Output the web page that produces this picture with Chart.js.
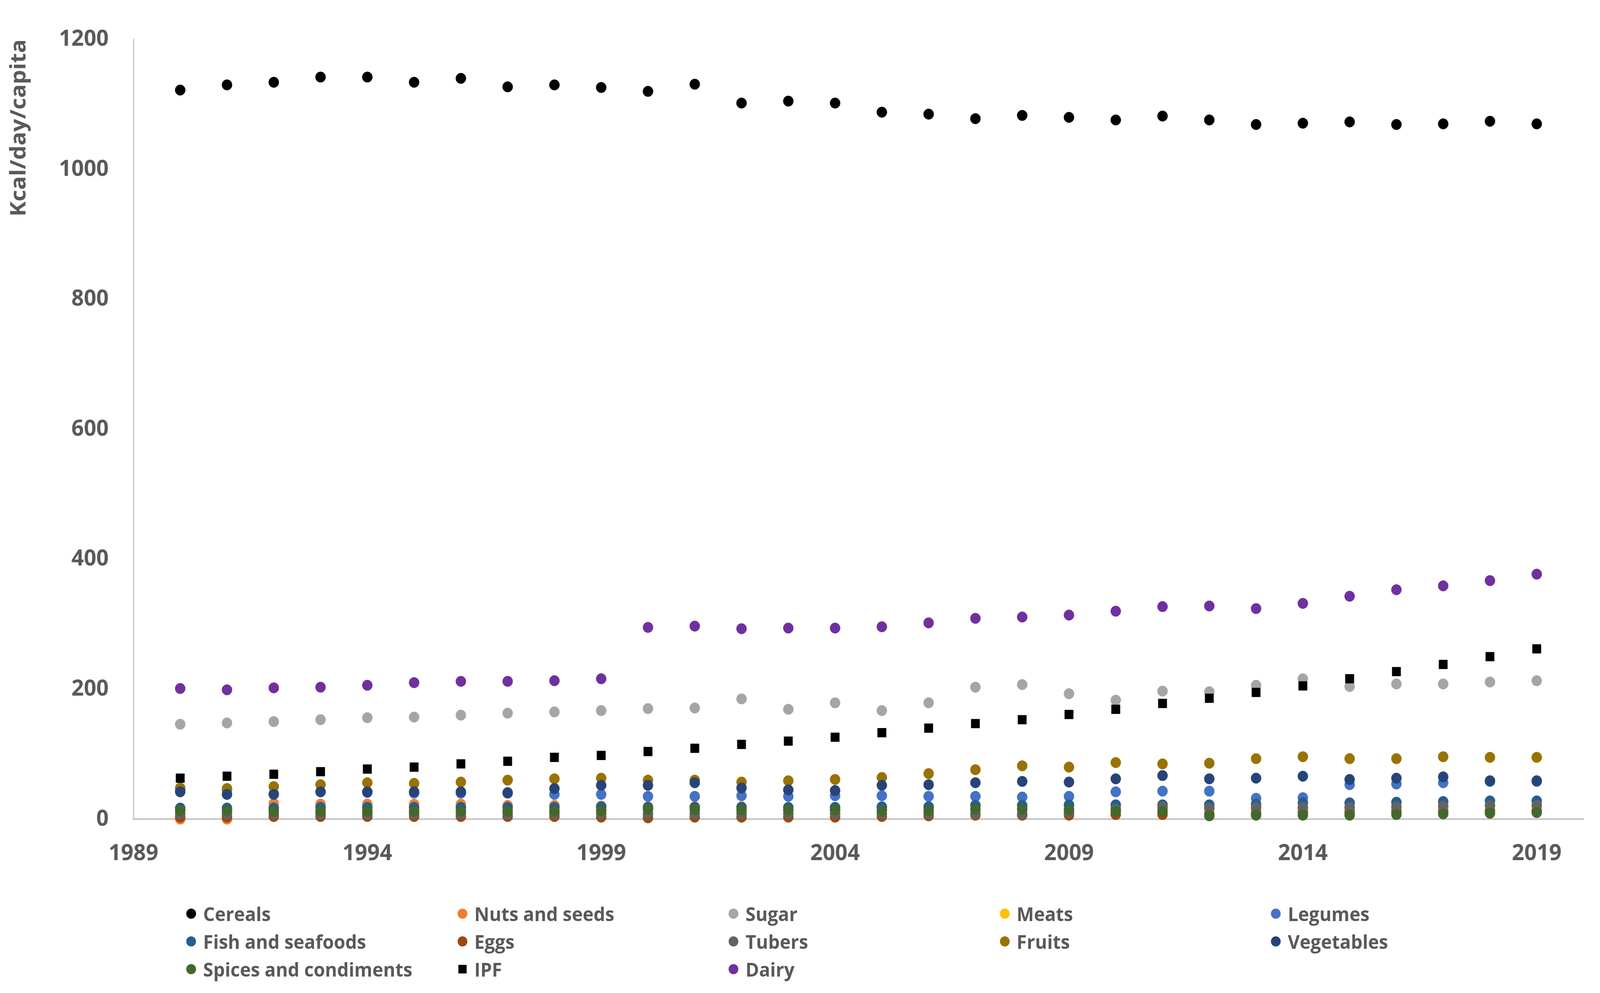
<!DOCTYPE html>
<html lang="en">
<head>
    <meta charset="UTF-8">
    <title>Kcal/day/capita by food group</title>
    <script src="https://cdn.jsdelivr.net/npm/chart.js"></script>
    <style>
        html, body {
            margin: 0;
            padding: 0;
            overflow: hidden;
            background: #ffffff;
            font-family: "Open Sans", sans-serif;
        }
        .wrap {
            position: relative;
            width: 4269px;
            height: 2541px;
            overflow: hidden;
            transform-origin: 0 0;
        }
        #chart {
            display: block;
        }
        #legend {
            position: absolute;
            left: 497px;
            top: 2302px;
            display: grid;
            grid-template-columns: repeat(5, 723.5px);
            grid-auto-rows: 71px;
        }
        .item {
            display: flex;
            align-items: center;
            color: #595959;
            font-weight: 700;
            font-size: 49px;
            white-space: nowrap;
        }
        .mark {
            width: 26px;
            height: 26px;
            border-radius: 50%;
            margin-right: 19px;
            flex: none;
        }
        .mark.sq {
            width: 22px;
            height: 22px;
            border-radius: 0;
            margin-left: 2px;
            margin-right: 21px;
        }
    </style>
</head>
<body>
    <div class="wrap" id="wrap">
        <canvas id="chart" width="4269" height="2541"></canvas>
        <div id="legend"></div>
    </div>

    <script>
        // Data (1990-2019)
        const years = [1990, 1991, 1992, 1993, 1994, 1995, 1996, 1997, 1998, 1999,
                       2000, 2001, 2002, 2003, 2004, 2005, 2006, 2007, 2008, 2009,
                       2010, 2011, 2012, 2013, 2014, 2015, 2016, 2017, 2018, 2019];
        const xTicks = [1989, 1994, 1999, 2004, 2009, 2014, 2019];
        const yTicks = [0, 200, 400, 600, 800, 1000, 1200];

        const cereals = [1122, 1130, 1134, 1142, 1142, 1134, 1140, 1127, 1130, 1126,
                         1120, 1131, 1102, 1105, 1102, 1088, 1085, 1078, 1083, 1080,
                         1076, 1082, 1076, 1069, 1071, 1073, 1069, 1070, 1074, 1070];
        const nuts = [0, 0, 24, 23, 23, 23, 23, 21, 21, 20,
                      19, 19, 19, 18, 18, 18, 19, 22, 21, 20,
                      18, 17, 16, 15, 15, 14, 14, 14, 14, 14];
        const sugar = [146, 148, 150, 153, 156, 157, 160, 163, 165, 167,
                       170, 171, 185, 169, 179, 167, 179, 203, 207, 193,
                       183, 197, 196, 206, 216, 204, 208, 208, 211, 213];
        const meats = [16, 16, 15, 15, 15, 15, 15, 15, 15, 15,
                       15, 15, 15, 15, 15, 15, 15, 15, 16, 16,
                       16, 17, 17, 18, 18, 19, 19, 20, 20, 20];
        const legumes = [45, 45, 39, 42, 41, 40, 40, 41, 38, 38,
                         35, 35, 36, 35, 36, 36, 35, 35, 34, 35,
                         42, 43, 43, 32, 33, 53, 54, 56, 58, 58];
        const fish = [17, 17, 17, 18, 18, 18, 18, 18, 18, 19,
                      18, 18, 18, 18, 18, 19, 19, 21, 21, 22,
                      22, 22, 22, 23, 25, 25, 26, 27, 28, 28];
        const eggs = [3, 3, 4, 4, 4, 4, 4, 4, 4, 3,
                      2, 3, 3, 3, 3, 4, 5, 6, 6, 6,
                      7, 7, 8, 9, 10, 10, 11, 11, 12, 12];
        const tubers = [8, 8, 8, 8, 8, 8, 8, 8, 8, 8,
                        8, 8, 8, 8, 8, 8, 8, 8, 8, 10,
                        15, 19, 17, 18, 18, 18, 19, 20, 21, 21];
        const fruits = [48, 47, 50, 53, 56, 55, 57, 60, 62, 63,
                        60, 60, 57, 59, 61, 64, 70, 76, 82, 80,
                        87, 85, 86, 93, 96, 93, 93, 96, 95, 95];
        const vegetables = [42, 38, 38, 42, 42, 42, 42, 40, 47, 52,
                            52, 56, 48, 45, 44, 52, 53, 56, 58, 57,
                            62, 67, 62, 63, 66, 61, 63, 65, 59, 59];
        const spices = [13, 13, 12, 12, 12, 12, 12, 12, 12, 13,
                        15, 15, 14, 14, 14, 13, 13, 15, 15, 14,
                        12, 12, 5, 6, 6, 6, 7, 8, 9, 10];
        const ipf = [63, 66, 69, 73, 77, 80, 85, 89, 95, 98,
                     104, 109, 115, 120, 126, 133, 140, 147, 153, 161,
                     169, 178, 186, 195, 205, 216, 227, 238, 250, 262];
        const dairy = [201, 199, 202, 203, 206, 210, 212, 212, 213, 216,
                       295, 297, 293, 294, 294, 296, 302, 309, 311, 314,
                       320, 327, 328, 324, 332, 343, 353, 359, 367, 377];

        const seriesNames = ["Cereals", "Nuts and seeds", "Sugar", "Meats", "Legumes",
                             "Fish and seafoods", "Eggs", "Tubers", "Fruits", "Vegetables",
                             "Spices and condiments", "IPF", "Dairy"];
        const seriesValues = [cereals, nuts, sugar, meats, legumes, fish, eggs, tubers,
                              fruits, vegetables, spices, ipf, dairy];
        const seriesColors = ["#000000", "#ED7D31", "#A5A5A5", "#FFC000", "#4472C4",
                              "#255E91", "#9E480E", "#636363", "#997300", "#264478",
                              "#43682B", "#000000", "#7030A0"];

        const tickColor = "#595959";
        const axisColor = "#c4c4c4";
        const fontFamily = "'Open Sans', sans-serif";

        // the drawing is laid out at 4269x2541; squeeze it into the real viewport
        const wrap = document.getElementById("wrap");
        const sx = window.innerWidth / 4269;
        const sy = window.innerHeight / 2541;
        wrap.style.transform = "scale(" + sx + "," + sy + ")";

        // later series sit on top, like the original
        const datasets = seriesNames.map((name, i) => ({
            label: name,
            data: years.map((yr, j) => ({ x: yr, y: seriesValues[i][j] })),
            pointStyle: name === "IPF" ? "rect" : "circle",
            pointRadius: name === "IPF" ? 16 : 13.5,
            backgroundColor: seriesColors[i],
            borderColor: seriesColors[i],
            borderWidth: 1,
            order: seriesNames.length - i,
            clip: false
        }));

        const ctx = document.getElementById("chart").getContext("2d");
        const chart = new Chart(ctx, {
            type: "scatter",
            data: { datasets: datasets },
            options: {
                responsive: false,
                animation: false,
                devicePixelRatio: 1,
                layout: { padding: { left: 17, top: 69, right: 44, bottom: 0 } },
                plugins: {
                    legend: { display: false },
                    tooltip: { enabled: false }
                },
                scales: {
                    x: {
                        type: "linear",
                        min: 1989,
                        max: 2020,
                        grid: { display: false, drawTicks: false },
                        border: { display: true, color: axisColor, width: 4 },
                        afterBuildTicks: axis => { axis.ticks = xTicks.map(v => ({ value: v })); },
                        afterFit: axis => { axis.height = 445; },
                        ticks: {
                            padding: 54,
                            color: tickColor,
                            font: { family: fontFamily, size: 58, weight: "700" },
                            maxRotation: 0,
                            autoSkip: false,
                            callback: v => String(v)
                        }
                    },
                    y: {
                        min: 0,
                        max: 1200,
                        grid: { display: false, drawTicks: false },
                        border: { display: true, color: axisColor, width: 3 },
                        afterBuildTicks: axis => { axis.ticks = yTicks.map(v => ({ value: v })); },
                        afterFit: axis => { axis.width = 339; },
                        title: {
                            display: true,
                            text: "Kcal/day/capita",
                            align: "end",
                            color: tickColor,
                            padding: { top: 0, bottom: 0 },
                            font: { family: fontFamily, size: 58, weight: "700" }
                        },
                        ticks: {
                            padding: 66,
                            color: tickColor,
                            font: { family: fontFamily, size: 58, weight: "700" },
                            callback: v => String(v)
                        }
                    }
                }
            }
        });

        // legend laid out in five fixed columns
        const legendBox = document.getElementById("legend");
        chart.data.datasets.forEach(ds => {
            const item = document.createElement("div");
            item.className = "item";
            const mark = document.createElement("span");
            mark.className = ds.pointStyle === "rect" ? "mark sq" : "mark";
            mark.style.background = ds.backgroundColor;
            item.appendChild(mark);
            item.appendChild(document.createTextNode(ds.label));
            legendBox.appendChild(item);
        });
    </script>
</body>
</html>
